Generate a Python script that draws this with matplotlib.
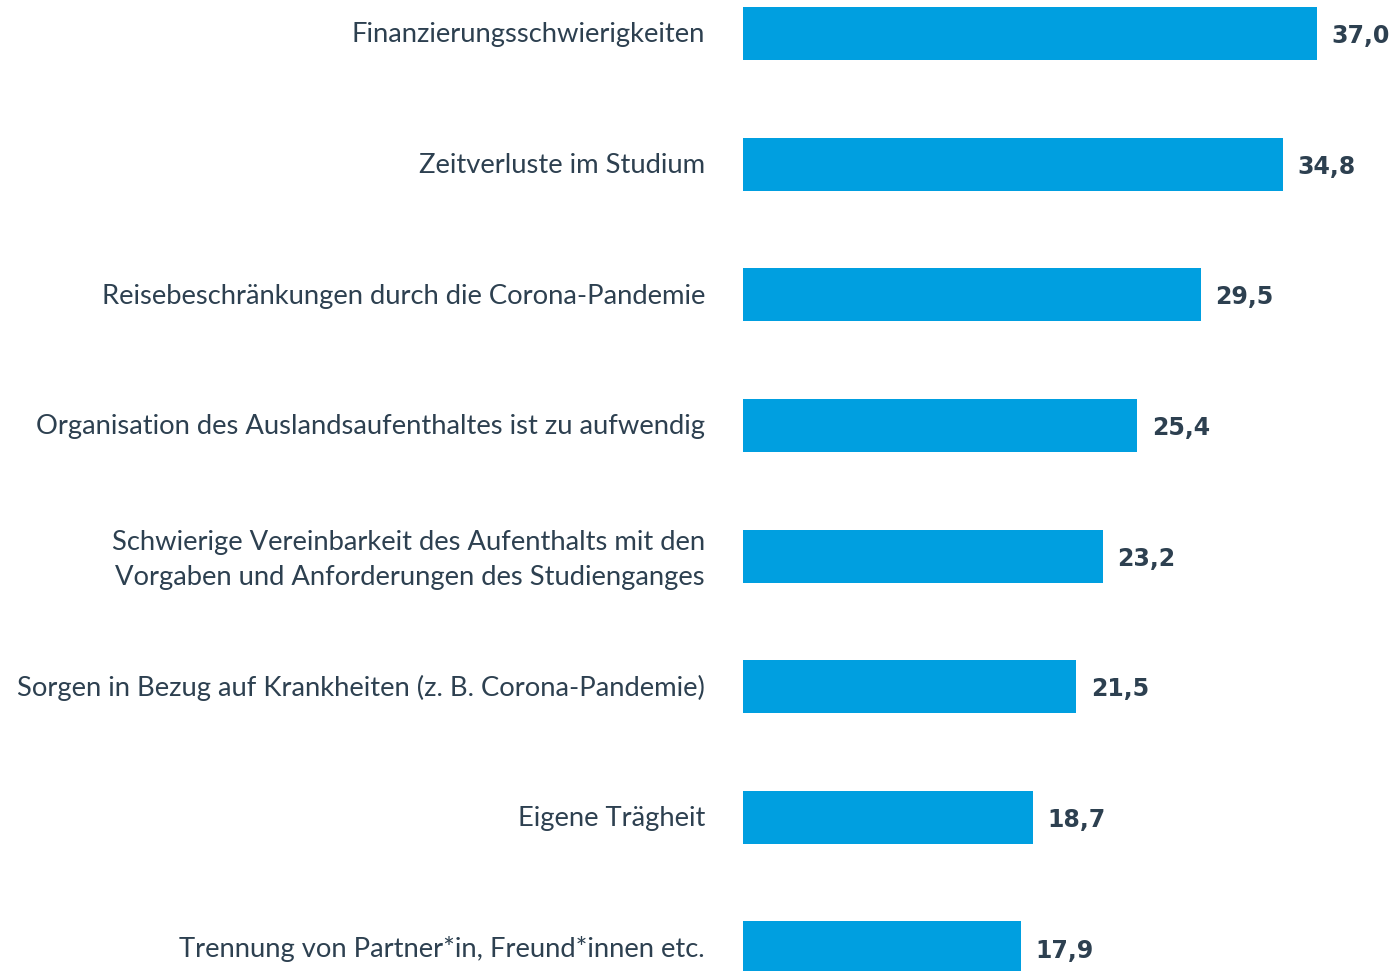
import matplotlib.pyplot as plt
import numpy as np

categories = [
    'Finanzierungsschwierigkeiten',
    'Zeitverluste im Studium',
    'Reisebeschränkungen durch die Corona-Pandemie',
    'Organisation des Auslandsaufenthaltes ist zu aufwendig',
    'Schwierige Vereinbarkeit des Aufenthalts mit den\nVorgaben und Anforderungen des Studienganges',
    'Sorgen in Bezug auf Krankheiten (z. B. Corona-Pandemie)',
    'Eigene Trägheit',
    'Trennung von Partner*in, Freund*innen etc.',
]
values = [37.0, 34.8, 29.5, 25.4, 23.2, 21.5, 18.7, 17.9]

bar_color = '#009FE0'
text_color = '#2D4050'

fig = plt.figure(figsize=(13.95, 9.71), dpi=100)
ax = fig.add_axes([743 / 1395, 0, 652 / 1395, 1])

y = np.arange(len(values))
ax.barh(y, values, height=0.406, color=bar_color)
ax.set_xlim(0, 652 / 15.51)
ax.set_ylim(7.176, -0.2565)
ax.axis('off')

for yi, v, lab in zip(y, values, categories):
    ax.text(v + 0.95, yi + 0.02, f'{v:.1f}'.replace('.', ','), va='center', ha='left',
            fontsize=17, fontweight='bold', color=text_color, family='DejaVu Sans')
    # two-line label sits a little lower than the bar centre
    dy = 0.03 if '\n' in lab else 0.01
    ax.text(-38 / 15.51, yi + dy, lab, va='center', ha='right', fontsize=19.7,
            color=text_color, family='Lato', linespacing=1.52)

fig.savefig('out.png', dpi=100)
